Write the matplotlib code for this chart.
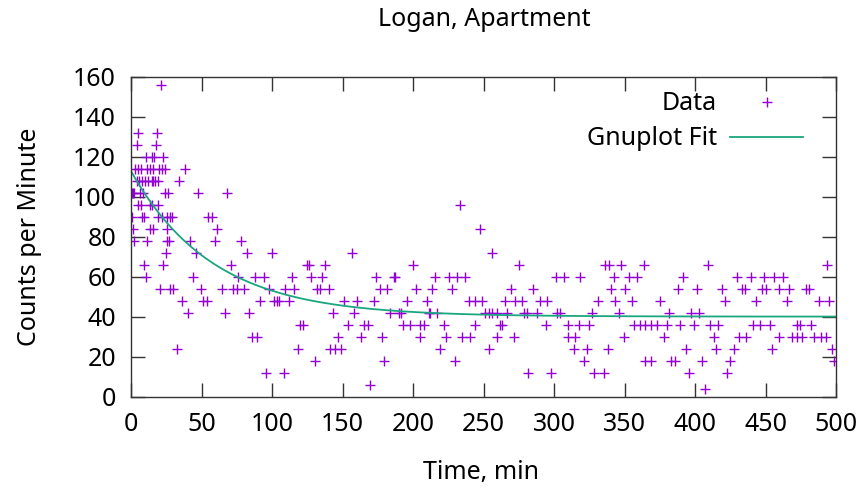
import numpy as np
import matplotlib.pyplot as plt

plt.rcParams['font.family'] = ['Noto Sans', 'DejaVu Sans']

levels = [156, 132, 126, 120, 114, 108, 102, 96, 90, 84, 78, 72, 66, 60,
          54, 48, 42, 36, 30, 24, 18, 12, 6, 4]
minutes_at_level = [
    [21],
    [5, 18.5],
    [3.8, 17.5],
    [10.2, 14.9, 16.1, 22.7],
    [2.6, 4.5, 7, 10.9, 13.3, 15.6, 19.9, 21.6, 23.9, 38.1],
    [3.8, 5.7, 7.4, 9.8, 12.1, 14.5, 15.6, 16.8, 19.2, 34.1],
    [0.3, 1.1, 1.9, 6.2, 8.5, 24.0, 26.3, 47.6, 68.2],
    [4.5, 6.6, 13.3, 14.5, 19.2, 233.0],
    [0.3, 7.4, 9.0, 19.2, 21.6, 25.1, 27.5, 28.7, 54.7, 57.1],
    [1.1, 13.3, 15.6, 25.1, 61.1, 247.7],
    [1.9, 11.4, 25.1, 27.0, 41.7, 59.4, 77.7],
    [24.6, 45.9, 81.9, 99.7, 156.5, 256.1],
    [9.0, 22.3, 70.6, 124.6, 125.8, 137.6, 200.1, 275.3, 336.4, 338.8,
     347.6, 363.5, 409.4, 493.6],
    [10.4, 43.6, 75.6, 87.9, 93.8, 114.0, 127.7, 135.3, 173.8, 186.1, 187.3,
     215.7, 225.2, 231.1, 237.0, 301.6, 307.3, 318.7, 342.3, 353.1, 359.0,
     391.6, 429.5, 439.4, 448.9, 456.0, 462.6],
    [20.4, 27.5, 29.9, 49.5, 64.2, 72.5, 74.9, 80.1, 98.0, 109.2, 115.6,
     131.7, 133.6, 140.0, 176.2, 181.4, 202.2, 213.3, 227.5, 269.6, 284.8,
     340.5, 350.6, 387.8, 401.5, 419.3, 433.5, 435.2, 447.7, 450.1, 459.6,
     466.7, 478.5, 480.9],
    [35.8, 51.2, 53.6, 91.4, 101.4, 103.3, 105.1, 112.2, 151.1, 160.1, 171.9,
     195.5, 209.8, 239.4, 244.1, 248.8, 265.4, 272.5, 277.3, 290.3, 295.0,
     331.0, 343.5, 355.4, 375.1, 421.0, 443.0, 465.1, 488.0, 495.1],
    [40.0, 66.5, 83.6, 142.8, 158.2, 183.7, 190.1, 191.3, 210.9, 212.1, 216.8,
     251.2, 253.5, 255.9, 259.5, 266.6, 278.4, 280.8, 287.9, 302.1, 304.5,
     327.0, 345.9, 381.4, 396.8, 402.7],
    [119.8, 121.5, 154.1, 165.3, 167.6, 192.7, 197.5, 205.0, 207.9, 221.6,
     244.1, 261.4, 263.1, 293.9, 309.7, 317.6, 324.7, 356.6, 360.8, 364.8,
     368.8, 373.1, 380.2, 389.2, 399.6, 410.9, 416.1, 441.2, 445.9, 453.0,
     472.4, 474.8, 482.4],
    [85.5, 89.0, 147.0, 163.0, 177.8, 204.6, 223.5, 234.7, 240.6, 259.5,
     271.3, 309.7, 315.1, 349.5, 377.9, 413.4, 431.2, 435.9, 459.6, 469.0,
     472.6, 476.1, 484.4, 489.2, 492.7],
    [32.2, 118.2, 140.7, 144.7, 148.7, 219.3, 253.5, 313.9, 323.4, 338.1,
     393.9, 414.6, 427.6, 454.8, 497.5],
    [130.0, 179.5, 229.9, 321.5, 364.8, 368.8, 383.0, 386.1, 405.0, 425.1,
     498.7],
    [95.4, 108.0, 281.3, 297.8, 328.1, 335.2, 395.6, 422.8],
    [169.5],
    [406.7],
]

# fit parameters: f(t) = a*exp(-t/tau) + c
fit_a = 72.5
fit_tau = 58.0
fit_c = 40.2

t = []
c = []
for lev, mins in zip(levels, minutes_at_level):
    t += mins
    c += [lev] * len(mins)

tf = np.linspace(0, 500, 500)
yf = fit_a * np.exp(-tf / fit_tau) + fit_c

fig = plt.figure(figsize=(8.66, 4.95), dpi=100)
ax = fig.add_axes([131.3 / 866, 1 - 397 / 495, (836 - 131.3) / 866, 320 / 495])

ax.plot(t, c, linestyle='none', marker='+', ms=6.5, mew=1.0, color='#9400d3', label='Data')
ax.plot(tf, yf, color='#1aa67e', lw=1.3, label='Gnuplot Fit')

ax.set_xlim(0, 500)
ax.set_ylim(0, 160)
ax.set_xticks(range(0, 501, 50))
ax.set_yticks(range(0, 161, 20))
ax.tick_params(direction='in', length=10, width=1, top=True, right=True,
               labelsize=18, color='#333333')
ax.tick_params(axis='y', pad=11)
ax.tick_params(axis='x', pad=11)
for s in ax.spines.values():
    s.set_color('#333333')
    s.set_linewidth(1)

fig.text(484 / 866, 1 - 20 / 495, 'Logan, Apartment', ha='center', va='center', fontsize=18)
fig.text(481 / 866, 1 - 472 / 495, 'Time, min', ha='center', va='center', fontsize=18)
fig.text(30 / 866, 1 - 237 / 495, 'Counts per Minute', ha='center', va='center',
         rotation=90, fontsize=18)

ax.legend(loc='upper right', bbox_to_anchor=(0.953, 0.955), markerfirst=False,
          frameon=False, fontsize=18, handlelength=2.9, handletextpad=0.55,
          labelspacing=0.4, borderpad=0, borderaxespad=0, numpoints=1)

fig.savefig('out.png', dpi=100)
